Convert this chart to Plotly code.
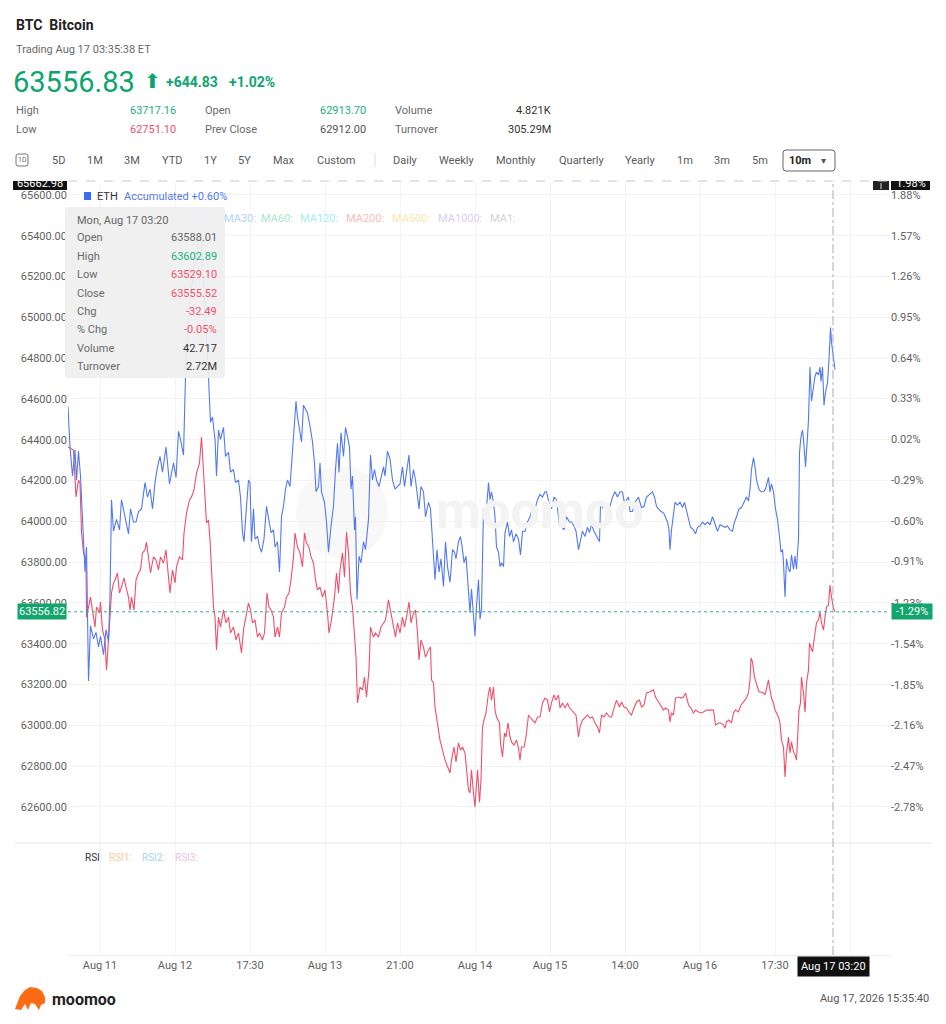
import plotly.graph_objects as go

# The page adds an 8px body margin, so the figure is sized to fit inside it
OFF = 8
W, H = 946 - 2 * OFF, 1024 - 2 * OFF


def px(x):
    return (x - OFF) / W


def py(y):
    return 1 - (y - OFF) / H


# ---------------- data ----------------
btc_bar = [0, 11, 16, 21, 24, 27, 31, 36, 37, 41, 45, 51, 54, 57, 63, 65, 69, 74, 77, 81, 84, 87, 91, 94, 99,
           103, 107, 112, 116, 121, 124, 127, 132, 136, 141, 145, 149, 154, 157, 161, 165, 171, 176, 181, 185,
           191, 196, 201, 204, 209, 214, 217, 223, 229, 232, 237, 243, 247, 252, 257, 263, 267, 271, 274, 277,
           281, 284, 287, 291, 294, 297, 301, 305, 311, 316, 321, 325, 331, 336, 341, 344, 347, 351, 356, 361,
           365, 369, 374, 379, 383, 389, 393, 398, 402, 406, 411, 414, 419, 423, 427, 433, 437, 442, 446, 451,
           454, 459, 464, 469, 473, 477, 482, 486, 491, 495, 499, 504, 509, 514, 519, 522, 527, 533, 537, 541,
           544, 549, 553, 557, 561, 565, 569, 572, 576, 579, 584, 589, 593, 597, 602, 605, 611, 615, 621, 626,
           631, 635, 641, 646, 651, 655, 659, 664, 669, 673, 677, 682, 686, 691, 695, 699, 702, 706, 711, 715,
           721, 725, 727, 731, 734, 744, 754, 764, 767, 772, 776, 781, 785, 789, 794, 797, 801, 804, 807, 811,
           814, 819, 823, 826, 829, 832, 836, 841, 844, 847, 851, 854, 857, 863, 865, 869, 873, 876, 880, 884,
           888, 892, 897, 901, 904, 907, 912, 916, 921, 924, 929, 934, 939, 944, 949, 954, 959, 963, 967, 972,
           976, 981, 984, 989, 994, 999, 1003, 1007, 1012, 1016, 1021, 1024, 1029, 1034, 1039, 1044, 1049,
           1054, 1059, 1063, 1067, 1072, 1077, 1083, 1087, 1092, 1097, 1103, 1107, 1112, 1117, 1123, 1127,
           1132, 1137, 1143, 1147, 1152, 1157, 1163, 1171, 1175, 1181, 1186, 1191, 1195, 1201, 1204, 1207,
           1211, 1215, 1221, 1226, 1231, 1235, 1241, 1246, 1251, 1255, 1261, 1266, 1271, 1277, 1284, 1291,
           1295, 1301, 1306, 1311, 1314, 1317, 1322, 1327, 1331, 1335, 1341, 1346, 1351, 1354, 1357, 1361,
           1364, 1366, 1369, 1373, 1377, 1382, 1386, 1391, 1394, 1397, 1401, 1404, 1407, 1411, 1414, 1417,
           1421, 1424, 1427, 1431, 1434, 1437, 1441, 1444, 1447, 1451, 1454, 1457, 1459, 1462, 1465, 1467,
           1471, 1474, 1477, 1481, 1483, 1486, 1489, 1494, 1497, 1501, 1504, 1507, 1511, 1514, 1517, 1521,
           1524, 1527, 1531, 1534]
btc_price = [64365, 64350, 64120, 64203, 64188, 63948, 63845, 63811, 63531, 63580, 63629, 63531, 63482, 63580,
             63551, 63605, 63468, 63419, 63272, 63419, 63566, 63649, 63698, 63713, 63747, 63649, 63678, 63723,
             63678, 63629, 63566, 63629, 63566, 63713, 63747, 63762, 63845, 63860, 63899, 63826, 63747, 63826,
             63811, 63762, 63826, 63796, 63860, 63727, 63649, 63762, 63698, 63777, 63826, 63811, 63943, 64041,
             64105, 64120, 64154, 64237, 64286, 64414, 64203, 64120, 63992, 64007, 63909, 63777, 63580, 63531,
             63370, 63531, 63482, 63566, 63502, 63531, 63453, 63482, 63419, 63453, 63404, 63355, 63468, 63531,
             63600, 63566, 63502, 63517, 63433, 63453, 63419, 63453, 63649, 63580, 63566, 63531, 63433, 63482,
             63433, 63551, 63580, 63629, 63649, 63713, 63826, 63943, 63874, 63845, 63777, 63943, 63894, 63874,
             63826, 63796, 63713, 63664, 63678, 63629, 63664, 63551, 63453, 63517, 63629, 63747, 63649, 63762,
             63845, 63727, 63948, 63845, 63649, 63580, 63453, 63335, 63110, 63188, 63174, 63237, 63139, 63272,
             63482, 63433, 63453, 63433, 63482, 63502, 63517, 63615, 63551, 63502, 63433, 63502, 63453, 63531,
             63482, 63531, 63605, 63502, 63551, 63566, 63453, 63321, 63419, 63384, 63335, 63370, 63384, 63223,
             63208, 63090, 62928, 62830, 62767, 62830, 62894, 62821, 62914, 62879, 62894, 62865, 62796, 62683,
             62669, 62781, 62669, 62600, 62781, 62624, 62732, 62992, 63026, 63061, 63159, 63188, 63124, 63188,
             63075, 63041, 63012, 62914, 62845, 62963, 62943, 63012, 62943, 62914, 62904, 62928, 62889, 62830,
             62894, 62894, 62943, 63051, 63041, 63026, 63012, 63041, 63041, 63110, 63134, 63124, 63066, 63110,
             63149, 63124, 63149, 63085, 63110, 63085, 63110, 63085, 63075, 63066, 63051, 62943, 62992, 63026,
             63041, 63051, 63036, 63041, 63012, 62992, 62963, 63051, 63041, 63061, 63041, 63041, 63085, 63124,
             63090, 63115, 63090, 63085, 63061, 63051, 63085, 63115, 63124, 63090, 63100, 63159, 63164, 63174,
             63139, 63115, 63090, 63075, 63085, 63075, 63017, 63061, 63051, 63134, 63139, 63134, 63139, 63159,
             63100, 63085, 63061, 63075, 63066, 63061, 63066, 63075, 63075, 63075, 63002, 63012, 63012, 63002,
             62987, 63017, 63026, 63012, 63061, 63075, 63066, 63100, 63115, 63124, 63134, 63159, 63223, 63330,
             63311, 63237, 63198, 63164, 63164, 63159, 63149, 63188, 63223, 63174, 63134, 63110, 63075, 63061,
             63041, 63012, 62928, 62894, 62747, 62865, 62943, 62865, 62919, 62870, 62855, 62830, 62914, 63075,
             63110, 63237, 63159, 63066, 63208, 63272, 63404, 63384, 63360, 63453, 63502, 63517, 63556, 63502,
             63468, 63531, 63580, 63590, 63688, 63629, 63575, 63556.82]

eth_bar = [0, 4, 9, 14, 17, 21, 25, 29, 32, 34, 37, 41, 45, 51, 56, 61, 65, 71, 76, 81, 84, 87, 91, 97, 103,
           107, 114, 121, 125, 131, 136, 141, 147, 154, 159, 164, 169, 174, 179, 184, 189, 196, 203, 211, 216,
           221, 225, 231, 236, 244, 254, 262, 266, 270, 276, 281, 285, 289, 294, 297, 301, 305, 311, 315, 321,
           325, 331, 335, 341, 345, 349, 352, 356, 361, 364, 367, 371, 374, 379, 383, 387, 392, 397, 402, 406,
           411, 414, 419, 423, 427, 431, 435, 439, 444, 449, 453, 456, 459, 464, 467, 471, 475, 479, 484, 489,
           493, 496, 501, 504, 507, 513, 517, 521, 526, 531, 535, 539, 542, 546, 551, 555, 559, 563, 566, 569,
           573, 575, 578, 582, 586, 591, 595, 601, 605, 609, 613, 617, 622, 626, 631, 634, 639, 644, 649, 654,
           659, 664, 669, 673, 677, 682, 686, 691, 695, 699, 702, 706, 711, 715, 721, 725, 729, 734, 738, 742,
           746, 751, 755, 759, 764, 769, 773, 776, 781, 785, 789, 792, 796, 801, 804, 807, 811, 814, 817, 821,
           824, 827, 831, 834, 837, 841, 844, 847, 851, 854, 857, 861, 864, 867, 871, 874, 879, 883, 887, 891,
           896, 901, 905, 909, 914, 919, 924, 929, 934, 939, 944, 949, 954, 957, 962, 967, 972, 977, 983, 987,
           992, 997, 1003, 1007, 1012, 1016, 1021, 1025, 1029, 1034, 1039, 1043, 1047, 1052, 1057, 1063, 1065,
           1069, 1074, 1079, 1084, 1089, 1094, 1099, 1104, 1109, 1114, 1117, 1121, 1124, 1129, 1134, 1141,
           1147, 1152, 1157, 1163, 1169, 1173, 1177, 1181, 1186, 1191, 1195, 1199, 1202, 1204, 1207, 1211,
           1214, 1219, 1224, 1229, 1233, 1235, 1241, 1245, 1251, 1255, 1259, 1264, 1269, 1274, 1279, 1284,
           1289, 1294, 1299, 1304, 1309, 1314, 1319, 1324, 1329, 1333, 1337, 1342, 1347, 1353, 1357, 1361,
           1364, 1367, 1371, 1374, 1377, 1382, 1386, 1391, 1395, 1401, 1404, 1407, 1411, 1415, 1419, 1423,
           1426, 1429, 1431, 1434, 1437, 1441, 1444, 1447, 1451, 1454, 1457, 1461, 1463, 1466, 1469, 1471,
           1475, 1479, 1481, 1484, 1487, 1491, 1494, 1497, 1501, 1504, 1506, 1509, 1512, 1515, 1519, 1522,
           1525, 1527, 1531, 1534]
eth_pct = [0.27, -0.04, -0.26, -0.06, -0.29, -0.07, -0.26, -0.64, -0.87, -0.99, -0.80, -1.82, -1.40, -1.50,
           -1.45, -1.56, -1.48, -1.62, -1.43, -1.52, -1.18, -0.44, -0.68, -0.59, -0.67, -0.44, -0.57, -0.70,
           -0.51, -0.61, -0.61, -0.53, -0.51, -0.31, -0.42, -0.36, -0.51, -0.31, -0.19, -0.11, -0.23, -0.04,
           -0.32, -0.16, -0.27, 0.08, 0.02, -0.10, 0.65, 1.08, 1.37, 1.57, 1.59, 1.31, 0.93, 0.49, 0.15, 0.19,
           0.02, -0.26, 0.09, 0.02, 0.11, -0.11, -0.08, -0.23, -0.21, -0.31, -0.29, -0.42, -0.69, -0.76, -0.54,
           -0.29, -0.31, -0.76, -0.51, -0.74, -0.72, -0.80, -0.84, -0.74, -0.49, -0.59, -0.69, -0.67, -0.80,
           -0.76, -0.99, -0.57, -0.49, -0.36, -0.29, -0.34, -0.04, 0.22, 0.31, 0.19, 0.09, 0.00, 0.28, 0.25,
           0.22, 0.12, 0.00, -0.16, -0.38, -0.34, -0.16, -0.38, -0.46, -0.61, -0.84, -0.64, -0.49, -0.21, -0.01,
           -0.23, 0.07, -0.11, 0.11, 0.04, -0.04, -0.36, -0.26, -0.67, -0.57, -1.20, -0.87, -0.92, -0.76, -0.82,
           -0.59, -0.10, -0.29, -0.21, -0.29, -0.34, -0.26, -0.19, -0.26, -0.07, -0.13, -0.29, -0.36, -0.34,
           -0.32, -0.19, -0.34, -0.23, -0.10, -0.34, -0.21, -0.29, -0.44, -0.51, -0.34, -0.38, -0.57, -0.46,
           -0.51, -0.72, -1.05, -0.82, -0.99, -0.89, -1.10, -0.76, -0.95, -1.07, -0.82, -0.84, -0.89, -0.76,
           -0.72, -0.82, -0.92, -0.87, -1.10, -1.30, -1.12, -1.30, -1.48, -1.25, -1.05, -1.35, -1.27, -0.51,
           -0.61, -0.51, -0.31, -0.44, -0.38, -0.46, -0.57, -0.80, -0.84, -0.95, -0.92, -0.95, -0.69, -0.61,
           -0.72, -0.67, -0.76, -0.70, -0.74, -0.86, -0.68, -0.68, -0.61, -0.57, -0.50, -0.51, -0.44, -0.40,
           -0.42, -0.38, -0.38, -0.46, -0.51, -0.42, -0.44, -0.64, -0.64, -0.67, -0.57, -0.61, -0.61, -0.64,
           -0.68, -0.82, -0.76, -0.68, -0.72, -0.65, -0.69, -0.63, -0.68, -0.72, -0.76, -0.48, -0.50, -0.46,
           -0.51, -0.49, -0.42, -0.38, -0.42, -0.38, -0.38, -0.49, -0.44, -0.42, -0.53, -0.53, -0.46, -0.42,
           -0.50, -0.49, -0.42, -0.40, -0.38, -0.42, -0.49, -0.51, -0.53, -0.54, -0.57, -0.61, -0.67, -0.82,
           -0.67, -0.57, -0.46, -0.48, -0.46, -0.50, -0.46, -0.49, -0.59, -0.65, -0.67, -0.70, -0.65, -0.64,
           -0.61, -0.63, -0.61, -0.63, -0.57, -0.63, -0.68, -0.63, -0.64, -0.65, -0.64, -0.67, -0.68, -0.61,
           -0.57, -0.51, -0.50, -0.45, -0.42, -0.45, -0.36, -0.21, -0.12, -0.19, -0.29, -0.36, -0.38, -0.38,
           -0.36, -0.27, -0.38, -0.32, -0.38, -0.51, -0.59, -0.72, -0.84, -0.82, -0.92, -1.18, -0.89, -0.97,
           -0.99, -0.86, -0.97, -0.87, -0.97, -0.74, -0.08, 0.04, 0.09, 0.02, -0.19, 0.04, 0.17, 0.57, 0.31,
           0.42, 0.50, 0.53, 0.51, 0.57, 0.46, 0.57, 0.28, 0.38, 0.45, 0.63, 0.87, 0.76, 0.65, 0.55]

price_ticks = [65600, 65400, 65200, 65000, 64800, 64600, 64400, 64200, 64000, 63800, 63600, 63400, 63200,
               63000, 62800, 62600]
pct_ticks = [1.88, 1.57, 1.26, 0.95, 0.64, 0.33, 0.02, -0.29, -0.60, -0.91, -1.23, -1.54, -1.85, -2.16,
             -2.47, -2.78]
x_tick_bars = [64, 214, 364, 514, 664, 814, 964, 1114, 1264, 1414, 1564]
x_tick_labels = ["Aug 11", "Aug 12", "17:30", "Aug 13", "21:00", "Aug 14", "Aug 15", "14:00", "Aug 16",
                 "17:30", ""]
cross_bar = 1530
cross_label = "Aug 17 03:20"
last_price = 63556.82
last_pct = -1.29
bar_range = [0, 1644]
price_range = [62423.5, 65663.7]
pct_range = [-3.054, 1.979]

tab_labels = ["5D", "1M", "3M", "YTD", "1Y", "5Y", "Max", "Custom", "Daily", "Weekly", "Monthly",
              "Quarterly", "Yearly", "1m", "3m", "5m"]
tab_x = [58, 95, 132, 172, 210, 245, 284, 336, 405, 457, 516, 581, 640, 685, 722, 760]

tip_labels = ["Open", "High", "Low", "Close", "Chg", "% Chg", "Volume", "Turnover"]
tip_values = ["63588.01", "63602.89", "63529.10", "63555.52", "-32.49", "-0.05%", "42.717", "2.72M"]

ma_labels = ["MA20:", "MA30:", "MA60:", "MA120:", "MA200:", "MA500:", "MA1000:", "MA1:"]
ma_colors = ["#eef1f6", "#b4d4f6", "#ade3cb", "#a6eef5", "#f8bdbd", "#fce6ae", "#d9ccf8", "#d4d4d4"]
ma_x = [180, 222, 259, 298, 344, 390, 436, 488]

# ---------------- styling ----------------
FONT = "Roboto"
BLUE = "#5379f0"
RED = "#f04f6b"
GREEN = "#0ea46f"
GREEN_L = "#22b07d"
GRID = "#f3f3f3"
LBL = "#5f5f5f"

fig = go.Figure()

fig.add_trace(go.Scatter(x=btc_bar, y=btc_price, mode="lines", line=dict(color=RED, width=1.1),
                         xaxis="x", yaxis="y", hoverinfo="skip"))
fig.add_trace(go.Scatter(x=eth_bar, y=eth_pct, mode="lines", line=dict(color=BLUE, width=1.1),
                         xaxis="x", yaxis="y2", hoverinfo="skip"))
fig.add_trace(go.Scatter(x=bar_range, y=[None, None], mode="lines", xaxis="x2", yaxis="y3",
                         hoverinfo="skip"))
# crosshair labels cut by top edge (clipped text)
fig.add_trace(go.Scatter(x=[40 - OFF, 911 - OFF], y=[6.0, 6.0], mode="text", text=["65662.98", "1.98%"],
                         textfont=dict(color="white", size=11, family=FONT), cliponaxis=True,
                         xaxis="x3", yaxis="y4", hoverinfo="skip"))

xdom = [px(68), px(890)]
fig.update_layout(
    width=W, height=H, margin=dict(l=0, r=0, t=0, b=0),
    paper_bgcolor="white", plot_bgcolor="rgba(0,0,0,0)", showlegend=False, hovermode=False,
    font=dict(family=FONT, size=11, color=LBL),
    xaxis=dict(domain=xdom, range=bar_range, anchor="y", tickvals=x_tick_bars, showticklabels=False,
               showgrid=True, gridcolor=GRID, zeroline=False, ticks=""),
    yaxis=dict(domain=[py(843), py(182)], range=price_range, tickvals=price_ticks,
               ticktext=[f"{v:.2f}" for v in price_ticks], showgrid=True, gridcolor=GRID,
               zeroline=False, ticks="", tickfont=dict(size=11, color=LBL), anchor="x"),
    yaxis2=dict(overlaying="y", side="right", range=pct_range, tickvals=pct_ticks,
                ticktext=[f"{v:.2f}%" for v in pct_ticks], showgrid=False, zeroline=False, ticks="",
                tickfont=dict(size=11, color=LBL), anchor="x"),
    xaxis2=dict(domain=xdom, range=bar_range, anchor="y3", tickvals=x_tick_bars, ticktext=x_tick_labels,
                showgrid=True, gridcolor=GRID, zeroline=False, ticks="", showline=True,
                linecolor="#ececec", tickfont=dict(size=11, color=LBL)),
    yaxis3=dict(domain=[py(955), py(843)], range=[0, 100], showticklabels=False, showgrid=False,
                zeroline=False, anchor="x2"),
    xaxis3=dict(domain=[0, 1], range=[0, W], visible=False, anchor="y4"),
    yaxis4=dict(domain=[py(190), py(181)], range=[0, 9], visible=False, anchor="x3"),
)


def rrect(x0, y0, x1, y1, r=4):
    rx, ry = r / W, r / H
    a, b, c, d = px(x0), px(x1), py(y0), py(y1)
    return (f"M {a+rx},{c} L {b-rx},{c} Q {b},{c} {b},{c-ry} L {b},{d+ry} Q {b},{d} {b-rx},{d} "
            f"L {a+rx},{d} Q {a},{d} {a},{d+ry} L {a},{c-ry} Q {a},{c} {a+rx},{c} Z")


shapes = []
# watermark logo
shapes.append(dict(type="circle", xref="paper", yref="paper", x0=px(296), x1=px(388), y0=py(558), y1=py(466),
                   fillcolor="#f8f8f8", line=dict(width=0), layer="below"))
# top crosshair dashed line
shapes.append(dict(type="line", xref="paper", yref="paper", x0=px(68), x1=px(890), y0=py(181), y1=py(181),
                   line=dict(color="#c9c9c9", width=1, dash="dash")))
# separator main / RSI
shapes.append(dict(type="line", xref="paper", yref="paper", x0=px(15), x1=px(932), y0=py(843), y1=py(843),
                   line=dict(color="#ececec", width=1.5)))
# last price dotted line
shapes.append(dict(type="line", xref="paper", yref="y", x0=px(68), x1=px(890), y0=last_price, y1=last_price,
                   line=dict(color="#2bb584", width=1, dash="dot")))
# vertical crosshair
shapes.append(dict(type="line", xref="x", yref="paper", x0=cross_bar, x1=cross_bar, y0=py(955), y1=py(182),
                   line=dict(color="#a8acb8", width=1, dash="dashdot")))
# crosshair top boxes (below the clipped text trace)
shapes.append(dict(type="rect", xref="paper", yref="paper", x0=px(13), x1=px(67), y0=py(190), y1=py(181),
                   fillcolor="#111", line=dict(width=0), layer="below"))
shapes.append(dict(type="rect", xref="paper", yref="paper", x0=px(873), x1=px(889), y0=py(190), y1=py(181),
                   fillcolor="#222", line=dict(width=0), layer="below"))
shapes.append(dict(type="rect", xref="paper", yref="paper", x0=px(891), x1=px(930), y0=py(190), y1=py(181),
                   fillcolor="#111", line=dict(width=0), layer="below"))
shapes.append(dict(type="line", xref="paper", yref="paper", x0=px(881), x1=px(881), y0=py(189), y1=py(183),
                   line=dict(color="#dddddd", width=1), layer="below"))
# tooltip panel
shapes.append(dict(type="path", path=rrect(65, 207, 225, 378), xref="paper", yref="paper",
                   fillcolor="rgba(239,239,239,0.93)", line=dict(width=0), layer="above"))
# legend square
shapes.append(dict(type="rect", xref="paper", yref="paper", x0=px(84), x1=px(91), y0=py(200), y1=py(192),
                   fillcolor="#3d6cf3", line=dict(width=0)))
# 1D icon and 10m selector
shapes.append(dict(type="path", path=rrect(16, 154, 28, 166, 2), xref="paper", yref="paper",
                   line=dict(color="#777", width=1)))
shapes.append(dict(type="path", path=rrect(783, 150, 835, 171, 3), xref="paper", yref="paper",
                   line=dict(color="#666", width=1)))
shapes.append(dict(type="line", xref="paper", yref="paper", x0=px(375), x1=px(375), y0=py(153), y1=py(167),
                   line=dict(color="#dddddd", width=1)))
# footer logo (approximate bull head)
logo_pts = [(15, 1009), (20, 996), (25, 990), (30, 987), (37, 988), (42, 991), (45, 997), (45, 1003),
            (41, 1005), (39, 1010), (35, 1004), (31, 1003), (28, 1010), (25, 1004), (21, 1010)]
logo_path = "M " + " L ".join(f"{px(x)},{py(y)}" for x, y in logo_pts) + " Z"
shapes.append(dict(type="path", path=logo_path, xref="paper", yref="paper", fillcolor="#ff6a14",
                   line=dict(width=0)))
fig.update_layout(shapes=shapes)

ann = []


def txt(x, y, s, size=11, color=LBL, anchor="left", family=FONT, **kw):
    d = dict(x=px(x), y=py(y), xref="paper", yref="paper", text=s, showarrow=False, xanchor=anchor,
             yanchor="middle", font=dict(size=size, color=color, family=family))
    d.update(kw)
    ann.append(d)


# watermark
txt(540, 510, "<b>moomoo</b>", 52, "#f3f3f3", "center")

# header
txt(14, 25, "<b>BTC\u00a0\u00a0Bitcoin</b>", 14, "#222")
txt(14, 50, "Trading Aug 17 03:35:38 ET", 11, "#6a6a6a")
txt(11, 82, "63556.83", 29, GREEN)
txt(142, 81, "\u2b06", 20, GREEN, family="DejaVu Sans")
txt(164, 82, "<b>+644.83</b>", 14, GREEN)
txt(227, 82, "<b>+1.02%</b>", 14, GREEN)
txt(14, 111, "High", 11, "#6a6a6a")
txt(128, 111, "63717.16", 11, GREEN_L)
txt(203, 111, "Open", 11, "#6a6a6a")
txt(318, 111, "62913.70", 11, GREEN_L)
txt(393, 111, "Volume", 11, "#6a6a6a")
txt(553, 111, "4.821K", 11, "#333", "right")
txt(14, 129, "Low", 11, "#6a6a6a")
txt(128, 129, "62751.10", 11, RED)
txt(203, 129, "Prev Close", 11, "#6a6a6a")
txt(318, 129, "62912.00", 11, "#555")
txt(393, 129, "Turnover", 11, "#6a6a6a")
txt(553, 129, "305.29M", 11, "#333", "right")

# tabs
txt(22, 160, "1D", 7, "#666", "center")
for lab, xx in zip(tab_labels, tab_x):
    txt(xx, 160, lab, 11, "#5a5a5a", "center")
txt(800, 160, "<b>10m</b>", 11, "#222", "center")
txt(823, 160, "\u25be", 10, "#555", "center", family="DejaVu Sans")

# legend / MA row
txt(95, 196, "ETH", 11, "#333")
txt(122, 196, "Accumulated +0.60%", 11, BLUE)
for lab, col, xx in zip(ma_labels, ma_colors, ma_x):
    txt(xx, 218, lab, 11, col)

# tooltip
txt(75, 220, "Mon, Aug 17 03:20", 11, "#666")
tip_colors = ["#666", GREEN_L, RED, RED, RED, RED, "#333", "#333"]
tip_y = [238, 256, 275, 293, 311, 329, 348, 366]
for lab, val, col, yy in zip(tip_labels, tip_values, tip_colors, tip_y):
    txt(75, yy, lab, 11, "#6a6a6a")
    txt(219, yy, val, 11, col, "right")

# last price labels
ann.append(dict(x=px(67), y=last_price, xref="paper", yref="y", text="63556.82", showarrow=False,
                xanchor="right", yanchor="middle", bgcolor="#12a56e", borderpad=1,
                font=dict(size=11, color="white", family=FONT)))
ann.append(dict(x=px(891), y=last_pct, xref="paper", yref="y2", text="-1.29%", showarrow=False,
                xanchor="left", yanchor="middle", bgcolor="#12a56e", borderpad=1, width=38,
                font=dict(size=11, color="white", family=FONT)))

# RSI row
txt(83, 857, "RSI", 10, "#333")
txt(107, 857, "RSI1:", 10, "#f9cba3")
txt(140, 857, "RSI2:", 10, "#a9d3f3")
txt(173, 857, "RSI3:", 10, "#f2bde9")

# crosshair time label
ann.append(dict(x=cross_bar, y=py(966), xref="x2", yref="paper", text=cross_label, showarrow=False,
                xanchor="center", yanchor="middle", bgcolor="#111", borderpad=3,
                font=dict(size=11, color="white", family=FONT)))

# footer
txt(50, 999, "<b>moomoo</b>", 16, "#222")
txt(931, 998, "Aug 17, 2026 15:35:40", 11, "#555", "right")

fig.update_layout(annotations=ann)

fig.write_html("out.html")
